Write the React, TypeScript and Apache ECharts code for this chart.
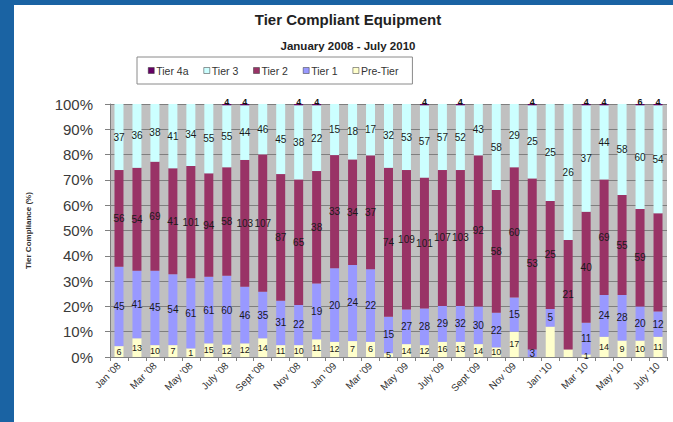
import React, { useEffect, useRef } from "react";
import * as echarts from "echarts";

const categories = [
  "Jan '08", "Feb '08", "Mar '08", "Apr '08", "May '08", "June '08", "July '08", "Aug '08", "Sept '08", "Oct '08", "Nov '08", "Dec '08",
  "Jan '09", "Feb '09", "Mar '09", "Apr '09", "May '09", "June '09", "July '09", "Aug '09", "Sept '09", "Oct '09", "Nov '09", "Dec '09",
  "Jan '10", "Feb '10", "Mar '10", "Apr '10", "May '10", "June '10", "July '10",
];

// segment shares in percent
const preTier = [4.3, 7.4, 4.7, 4.7, 3.4, 5.4, 4.9, 5.4, 7.4, 4.7, 4.7, 7.0, 6.0, 6.3, 6.0, 1.5, 5.1, 4.7, 6.0, 6.0, 5.1, 3.8, 10.0, 0, 12.0, 3.0, 1.0, 8.0, 6.5, 6.5, 8.0];
const tier1 = [31.4, 26.7, 29.4, 28.0, 27.7, 26.3, 27.2, 22.4, 18.4, 17.5, 15.9, 22.1, 29.1, 30.1, 28.7, 14.4, 13.7, 14.5, 14.2, 14.2, 14.9, 13.7, 13.5, 3.0, 7.0, 0, 12.5, 16.5, 18.0, 13.5, 10.0];
const tier2 = [38.2, 40.7, 43.1, 41.9, 44.4, 40.9, 42.9, 50.1, 54.3, 50.1, 49.6, 44.4, 44.7, 41.7, 45.0, 58.9, 55.1, 51.7, 53.7, 53.7, 59.7, 48.5, 51.5, 67.6, 42.7, 43.2, 43.9, 45.7, 39.5, 38.5, 38.8];
const tier3 = [26.1, 25.2, 22.8, 25.4, 24.5, 27.4, 24.5, 21.6, 19.9, 27.7, 29.3, 26.0, 20.2, 21.9, 20.3, 25.2, 26.1, 28.6, 26.1, 25.6, 20.3, 34.0, 25.0, 28.9, 38.3, 53.8, 42.1, 29.3, 36.0, 41.0, 42.7];
const tier4a = [0, 0, 0, 0, 0, 0, 0.5, 0.5, 0, 0, 0.5, 0.5, 0, 0, 0, 0, 0, 0.5, 0, 0.5, 0, 0, 0, 0.5, 0, 0, 0.5, 0.5, 0, 0.5, 0.5];

// data labels (unit counts) as printed on the chart
const preTierLabels = ["6", "13", "10", "7", "1", "15", "12", "12", "14", "11", "10", "11", "12", "7", "6", "5", "14", "12", "16", "13", "14", "10", "17", "", "", "", "1", "14", "9", "10", "11"];
const tier1Labels = ["45", "41", "45", "54", "61", "61", "60", "46", "35", "31", "22", "19", "20", "24", "22", "15", "27", "28", "29", "32", "30", "22", "15", "3", "5", "", "11", "24", "28", "20", "12"];
const tier2Labels = ["56", "54", "69", "41", "101", "94", "58", "103", "107", "87", "65", "38", "33", "34", "37", "74", "109", "101", "107", "103", "92", "58", "60", "53", "25", "21", "40", "69", "55", "59", ""];
const tier3Labels = ["37", "36", "38", "41", "34", "55", "55", "44", "46", "45", "38", "22", "15", "18", "17", "32", "53", "57", "57", "52", "43", "58", "29", "25", "25", "26", "37", "44", "58", "60", "54"];
const tier4aLabels = ["", "", "", "", "", "", "4", "4", "", "", "4", "4", "", "", "", "", "", "4", "", "4", "", "", "", "4", "", "", "4", "4", "", "6", "4"];

const yTicks = [0, 10, 20, 30, 40, 50, 60, 70, 80, 90, 100];

const FONT = "'Liberation Sans', Arial, sans-serif";

const colors = {
  tier4a: "#660066",
  tier3: "#ccffff",
  tier2: "#993366",
  tier1: "#9999ff",
  preTier: "#ffffcc",
};

export default function App() {
  const ref = useRef<HTMLDivElement>(null);
  useEffect(() => {
    if (!ref.current) return;
    const chart = echarts.init(ref.current, null, { renderer: "svg" });
    const labelOf = (arr: string[], size = 10) => ({
      show: true,
      position: "inside" as const,
      fontSize: size,
      fontFamily: FONT,
      color: "#1a1a1a",
      formatter: (p: any) => arr[p.dataIndex] || "",
    });
    const bar = (name: string, data: number[], color: string, label: any) => ({
      name,
      type: "bar",
      stack: "total",
      data,
      barWidth: "50%",
      itemStyle: { color },
      label,
      emphasis: { disabled: true },
    });
    chart.setOption({
      animation: false,
      backgroundColor: "#1a63a3",
      graphic: [
        {
          type: "rect",
          shape: { x: 14, y: 5, width: 659, height: 417 },
          style: { fill: "#ffffff" },
          z: -10,
        },
      ],
      title: [
        {
          text: "Tier Compliant Equipment",
          left: 343,
          top: 7,
          textAlign: "center",
          textStyle: { fontFamily: FONT, fontSize: 15, fontWeight: "bold", color: "#222" },
        },
        {
          text: "January 2008 - July 2010",
          left: 343,
          top: 35,
          textAlign: "center",
          textStyle: { fontFamily: FONT, fontSize: 11.5, fontWeight: "bold", color: "#222" },
        },
      ],
      legend: {
        left: 137,
        top: 57,
        orient: "horizontal",
        itemWidth: 6,
        itemHeight: 6,
        itemGap: 15,
        padding: [8, 14, 8, 11],
        borderColor: "#8a8a8a",
        borderWidth: 1,
        icon: "rect",
        textStyle: { fontFamily: FONT, fontSize: 10.5, color: "#333", padding: [0, 0, 0, -3] },
        data: [
          { name: "Tier 4a", itemStyle: { borderColor: "#333", borderWidth: 0.5 } },
          { name: "Tier 3", itemStyle: { borderColor: "#333", borderWidth: 0.5 } },
          { name: "Tier 2", itemStyle: { borderColor: "#333", borderWidth: 0.5 } },
          { name: "Tier 1", itemStyle: { borderColor: "#333", borderWidth: 0.5 } },
          { name: "Pre-Tier", itemStyle: { borderColor: "#333", borderWidth: 0.5 } },
        ],
      },
      grid: {
        left: 110,
        right: 6,
        top: 104,
        bottom: 65,
        show: true,
        backgroundColor: "#c0c0c0",
        borderWidth: 0,
      },
      xAxis: {
        type: "category",
        data: categories,
        boundaryGap: true,
        axisLine: { show: true, lineStyle: { color: "#808080" } },
        axisTick: { show: true, interval: 0, length: 4, lineStyle: { color: "#808080" } },
        axisLabel: {
          interval: 1,
          rotate: 45,
          margin: 7,
          fontSize: 10,
          fontFamily: FONT,
          color: "#333",
        },
      },
      yAxis: {
        type: "value",
        min: yTicks[0],
        max: yTicks[yTicks.length - 1],
        interval: yTicks[1] - yTicks[0],
        name: "Tier Compliance (%)",
        nameLocation: "middle",
        nameRotate: 90,
        nameGap: 78,
        nameTextStyle: { fontFamily: FONT, fontSize: 8, fontWeight: "bold", color: "#333" },
        axisLine: { show: true, lineStyle: { color: "#808080" } },
        axisTick: { show: true, length: 5, lineStyle: { color: "#808080" } },
        splitLine: { show: true, lineStyle: { color: "#7f7f7f", width: 1 } },
        axisLabel: {
          formatter: "{value}%",
          margin: 17,
          fontSize: 15,
          fontFamily: FONT,
          color: "#3a3a3a",
        },
      },
      series: [
        bar("Pre-Tier", preTier, colors.preTier, labelOf(preTierLabels, 9)),
        bar("Tier 1", tier1, colors.tier1, labelOf(tier1Labels)),
        bar("Tier 2", tier2, colors.tier2, labelOf(tier2Labels)),
        bar("Tier 3", tier3, colors.tier3, labelOf(tier3Labels)),
        bar("Tier 4a", tier4a, colors.tier4a, {
          show: true,
          position: "top",
          distance: -2,
          fontSize: 9,
          fontWeight: "bold",
          fontFamily: FONT,
          color: "#111",
          formatter: (p: any) => tier4aLabels[p.dataIndex] || "",
        }),
      ],
    });
    return () => chart.dispose();
  }, []);
  return (
    <div
      ref={ref}
      style={{ position: "fixed", left: 0, top: 0, width: 673, height: 422 }}
    />
  );
}
